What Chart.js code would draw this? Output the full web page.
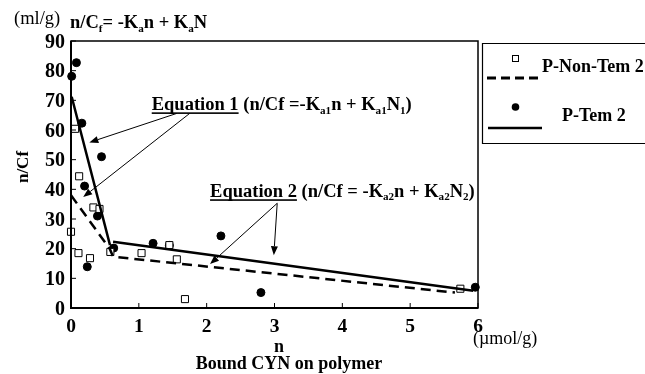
<!DOCTYPE html>
<html><head><meta charset="utf-8">
<script src="https://cdn.jsdelivr.net/npm/chart.js@4/dist/chart.umd.min.js"></script>
<style>html,body{margin:0;padding:0;background:#fff;}#wrap{width:645px;height:374px;position:relative;}
.fl{position:absolute;left:-1000px;top:0;font-family:"Liberation Serif";}</style>
</head><body><div id="wrap"><canvas id="c" width="645" height="374"></canvas></div>
<span class="fl" style="font-weight:bold">Equation 1 n/Cf</span><span class="fl">(µmol/g)</span>
<script>
// ---- data ----
const xTicks = [0, 1, 2, 3, 4, 5, 6];
const yTicks = [0, 10, 20, 30, 40, 50, 60, 70, 80, 90];
const nonTemN  = [0.06, 0.12, 0.00, 0.11, 0.28, 0.33, 0.42, 0.58, 1.04, 1.45, 1.56, 1.68, 5.74];
const nonTemNC = [60.4, 44.4, 25.7, 18.5, 16.8, 33.9, 33.4, 18.9, 18.5, 21.2, 16.4, 3.0, 6.5];
const temN  = [0.01, 0.08, 0.16, 0.20, 0.24, 0.39, 0.45, 0.63, 1.21, 1.45, 2.21, 2.80, 5.96];
const temNC = [78.1, 82.7, 62.3, 41.1, 13.9, 31.0, 51.0, 20.2, 21.8, 21.1, 24.3, 5.2, 7.0];
const nonTemFitN  = [0.00, 0.57, 0.62, 5.66];
const nonTemFitNC = [38.0, 20.0, 17.3, 5.2];
const temFitN  = [0.01, 0.575, 0.60, 0.62, 5.93];
const temFitNC = [71.2, 21.2, null, 22.3, 5.8];
const legendLabels = ['P-Non-Tem 2', 'P-Tem 2'];
// annotation arrows in data units [x0,y0,x1,y1]
const eq1Arrows = [[1.56, 65.6, 0.27, 55.8], [1.75, 65.6, 0.18, 37.4]];
const eq2Arrows = [[3.04, 35.3, 2.05, 14.8], [3.04, 35.3, 2.99, 17.8]];
const eq1Pos = [1.19, 66.8];
const eq2Pos = [2.05, 37.5];

const pts = (xs, ys) => xs.map((x, i) => ({x: x, y: ys[i]}));
const FF = '"Liberation Serif", serif';
const fnt = (s, b) => (b ? 'bold ' : '') + s + 'px ' + FF;

function rich(ctx, segs, x, y, size, align) {
  ctx.save();
  ctx.translate(x, y);
  ctx.fillStyle = '#000'; ctx.textBaseline = 'alphabetic'; ctx.textAlign = 'left';
  const ws = segs.map(s => { ctx.font = fnt(s.sub ? size * 0.6 : size, s.b !== false); return ctx.measureText(s.t).width; });
  const tot = ws.reduce((a, b) => a + b, 0);
  let cx = align === 'center' ? -tot / 2 : align === 'right' ? -tot : 0;
  segs.forEach((s, i) => {
    ctx.font = fnt(s.sub ? size * 0.6 : size, s.b !== false);
    ctx.fillText(s.t, cx, s.sub ? size * 0.2 : 0);
    if (s.u) ctx.fillRect(cx, 2.5, ws[i], 1.6);
    cx += ws[i];
  });
  ctx.restore();
}

function arrow(ctx, x0, y0, x1, y1) {
  ctx.save();
  ctx.strokeStyle = '#000'; ctx.fillStyle = '#000'; ctx.lineWidth = 1;
  const a = Math.atan2(y1 - y0, x1 - x0), L = 9, W = 3.5;
  const bx = x1 - L * Math.cos(a), by = y1 - L * Math.sin(a);
  ctx.beginPath(); ctx.moveTo(x0, y0); ctx.lineTo(bx, by); ctx.stroke();
  ctx.beginPath(); ctx.moveTo(x1, y1);
  ctx.lineTo(bx + W * Math.sin(a), by - W * Math.cos(a));
  ctx.lineTo(bx - W * Math.sin(a), by + W * Math.cos(a));
  ctx.closePath(); ctx.fill();
  ctx.restore();
}

const deco = {
  id: 'deco',
  afterDraw(chart) {
    const ctx = chart.ctx, a = chart.chartArea, xs = chart.scales.x, ys = chart.scales.y;
    ctx.save();
    ctx.strokeStyle = '#000'; ctx.lineWidth = 1.5;
    ctx.strokeRect(a.left, a.top, a.right - a.left, a.bottom - a.top);
    ctx.lineWidth = 2;
    ctx.beginPath(); ctx.moveTo(a.left, a.top); ctx.lineTo(a.left, a.bottom); ctx.lineTo(a.right, a.bottom); ctx.stroke();
    ctx.lineWidth = 1;
    xTicks.forEach(v => { const p = xs.getPixelForValue(v); ctx.beginPath(); ctx.moveTo(p, a.bottom); ctx.lineTo(p, a.bottom - 5); ctx.stroke(); });
    yTicks.forEach(v => { const p = ys.getPixelForValue(v); ctx.beginPath(); ctx.moveTo(a.left, p); ctx.lineTo(a.left + 5, p); ctx.stroke(); });
    xTicks.forEach(v => rich(ctx, [{t: String(v)}], xs.getPixelForValue(v), a.bottom + 24, 19.5, 'center'));
    yTicks.forEach(v => rich(ctx, [{t: String(v)}], a.left - 6, ys.getPixelForValue(v) + 6.5, 20, 'right'));
    rich(ctx, [{t: '(µmol/g)', b: false}], 473, 344, 18, 'left');
    rich(ctx, [{t: 'n'}], 279, 352, 18, 'center');
    rich(ctx, [{t: 'Bound CYN on polymer'}], 289, 369, 18, 'center');
    rich(ctx, [{t: '(ml/g)', b: false}], 14, 24, 18.5, 'left');
    rich(ctx, [{t: 'n/C'}, {t: 'f', sub: true}, {t: '= -K'}, {t: 'a', sub: true}, {t: 'n + K'}, {t: 'a', sub: true}, {t: 'N'}], 70, 28, 18.5, 'left');
    ctx.save(); ctx.translate(24, 167); ctx.rotate(-Math.PI / 2);
    ctx.font = fnt(17, true); ctx.textAlign = 'center'; ctx.textBaseline = 'middle'; ctx.fillStyle = '#000';
    ctx.fillText('n/Cf', 0, 0); ctx.restore();
    const X = v => xs.getPixelForValue(v), Y = v => ys.getPixelForValue(v);
    rich(ctx, [{t: 'Equation 1', u: true}, {t: ' (n/Cf =-K'}, {t: 'a1', sub: true}, {t: 'n + K'}, {t: 'a1', sub: true}, {t: 'N'}, {t: '1', sub: true}, {t: ')'}], X(eq1Pos[0]), Y(eq1Pos[1]), 18.5, 'left');
    rich(ctx, [{t: 'Equation 2', u: true}, {t: ' (n/Cf = -K'}, {t: 'a2', sub: true}, {t: 'n + K'}, {t: 'a2', sub: true}, {t: 'N'}, {t: '2', sub: true}, {t: ')'}], X(eq2Pos[0]), Y(eq2Pos[1]), 18.5, 'left');
    eq1Arrows.concat(eq2Arrows).forEach(r => arrow(ctx, X(r[0]), Y(r[1]), X(r[2]), Y(r[3])));
    ctx.strokeStyle = '#000'; ctx.lineWidth = 1.2;
    ctx.beginPath(); ctx.moveTo(645, 43.5); ctx.lineTo(482.5, 43.5); ctx.lineTo(482.5, 143.5); ctx.lineTo(645, 143.5); ctx.stroke();
    ctx.lineWidth = 1; ctx.fillStyle = '#fff';
    ctx.fillRect(512, 55, 7, 7); ctx.strokeRect(512.5, 55.5, 6, 6);
    ctx.fillStyle = '#000';
    ctx.beginPath(); ctx.arc(515.5, 107, 3.8, 0, Math.PI * 2); ctx.fill();
    ctx.lineWidth = 3; ctx.setLineDash([9, 5]);
    ctx.beginPath(); ctx.moveTo(487, 78); ctx.lineTo(540, 78); ctx.stroke();
    ctx.setLineDash([]); ctx.lineWidth = 2.5;
    ctx.beginPath(); ctx.moveTo(488, 128); ctx.lineTo(542, 128); ctx.stroke();
    rich(ctx, [{t: legendLabels[0]}], 542, 72, 18, 'left');
    rich(ctx, [{t: legendLabels[1]}], 562, 121, 18, 'left');
    ctx.restore();
  }
};

function build() {
  new Chart(document.getElementById('c'), {
    type: 'scatter',
    data: {
      datasets: [
        {label: 'P-Non-Tem 2 fit', data: pts(nonTemFitN, nonTemFitNC), showLine: true, borderColor: '#000', borderWidth: 2.5, borderDash: [10, 6], pointRadius: 0, fill: false, clip: false},
        {label: 'P-Tem 2 fit', data: pts(temFitN, temFitNC), showLine: true, spanGaps: false, borderColor: '#000', borderWidth: 2.5, pointRadius: 0, fill: false, clip: false},
        {label: legendLabels[0], data: pts(nonTemN, nonTemNC), pointStyle: 'rect', pointRadius: 5, backgroundColor: '#fff', borderColor: '#000', borderWidth: 1, clip: false},
        {label: legendLabels[1], data: pts(temN, temNC), pointStyle: 'circle', pointRadius: 4, backgroundColor: '#000', borderColor: '#000', borderWidth: 1, clip: false}
      ]
    },
    options: {
      responsive: false, animation: false, events: [],
      layout: {padding: {left: 0, right: 167, top: 41, bottom: 0}},
      plugins: {legend: {display: false}, tooltip: {enabled: false}},
      scales: {
        x: {type: 'linear', min: 0, max: 6, ticks: {display: false}, grid: {display: false}, border: {display: false},
            afterBuildTicks: s => { s.ticks = xTicks.map(v => ({value: v})); }, afterFit: s => { s.height = 66; }},
        y: {type: 'linear', min: 0, max: 90, ticks: {display: false}, grid: {display: false}, border: {display: false},
            afterBuildTicks: s => { s.ticks = yTicks.map(v => ({value: v})); }, afterFit: s => { s.width = 71; }}
      }
    },
    plugins: [deco]
  });
}
Promise.all([
  document.fonts.load('bold 15px "Liberation Serif"'),
  document.fonts.load('15px "Liberation Serif"')
]).then(build, build);
</script></body></html>
